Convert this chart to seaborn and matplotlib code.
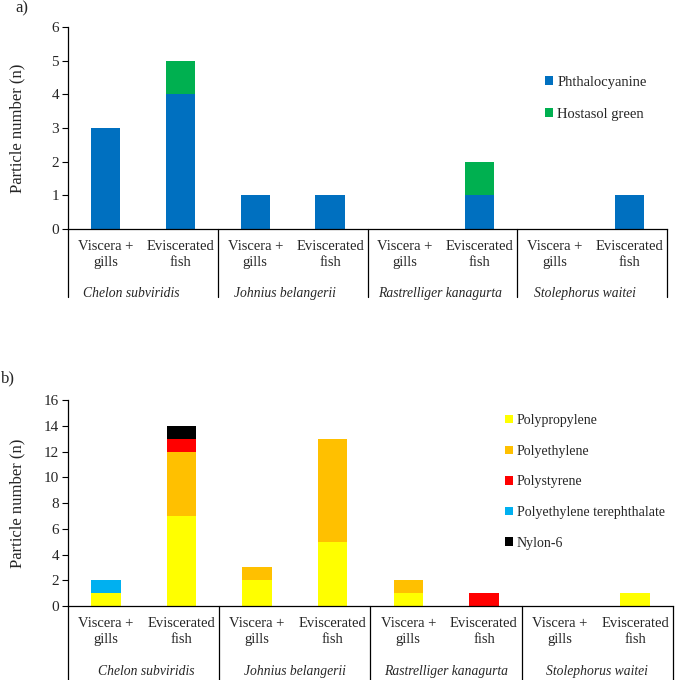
import matplotlib
matplotlib.use("Agg")
import matplotlib.pyplot as plt
import matplotlib.transforms as mtransforms
from matplotlib.patches import Patch
import seaborn as sns
import pandas as pd
import numpy as np

sns.set_style("white")
plt.rcParams["font.family"] = ["Liberation Serif", "DejaVu Serif"]

species = ["Chelon subviridis", "Johnius belangerii", "Rastrelliger kanagurta", "Stolephorus waitei"]
parts = ["Viscera +\ngills", "Eviscerated\nfish"]
categories = [f"{s}|{p}" for s in species for p in parts]
tick_labels = [p for s in species for p in parts]

# panel a: dyes / pigments
dye_names = ["Phthalocyanine", "Hostasol green"]
phthalocyanine = [3, 4, 1, 1, 0, 1, 0, 1]
hostasol_green = [0, 1, 0, 0, 0, 1, 0, 0]
dye_colors = ["#0070C0", "#00B050"]

# panel b: polymers
poly_names = ["Polypropylene", "Polyethylene", "Polystyrene",
              "Polyethylene terephthalate", "Nylon-6"]
polypropylene = [1, 7, 2, 5, 1, 0, 0, 1]
polyethylene = [0, 5, 1, 8, 1, 0, 0, 0]
polystyrene = [0, 1, 0, 0, 0, 1, 0, 0]
pet = [1, 0, 0, 0, 0, 0, 0, 0]
nylon6 = [0, 1, 0, 0, 0, 0, 0, 0]
poly_colors = ["#FFFF00", "#FFC000", "#FF0000", "#00B0F0", "#000000"]

fig = plt.figure(figsize=(6.75, 6.8), dpi=100)
W, H = 675, 680

def ax_rect(l, r, t, b):
    return [l / W, 1 - b / H, (r - l) / W, (b - t) / H]

ax_a = fig.add_axes(ax_rect(68, 667, 27, 229))
ax_b = fig.add_axes(ax_rect(68, 673, 400, 606))


def stacked(ax, series, colors, ymax, ystep, line_depth, species_y, sp_offset):
    cum = np.cumsum(np.array(series, dtype=float), axis=0)
    # draw cumulative totals from top layer down so lower layers overdraw
    for i in range(len(series) - 1, -1, -1):
        df = pd.DataFrame({"cat": categories, "val": cum[i]})
        sns.barplot(data=df, x="cat", y="val", order=categories, color=colors[i],
                    width=0.39, saturation=1, ax=ax, edgecolor="none", linewidth=0)
    ax.set_xlim(-0.5, len(categories) - 0.5)
    ax.set_ylim(0, ymax)
    ax.set_yticks(np.arange(0, ymax + 0.01, ystep))
    ax.set_xticks(range(len(categories)))
    ax.set_xticklabels(tick_labels, fontsize=10.5, linespacing=1.3)
    ax.tick_params(axis="x", length=0, pad=8)
    ax.tick_params(axis="y", length=4.5, width=0.8, direction="out", pad=2,
                   labelsize=11, left=True, color="black")
    ax.set_xlabel("")
    ax.set_ylabel("Particle number (n)", fontsize=12)
    for s in ["top", "right"]:
        ax.spines[s].set_visible(False)
    for s in ["left", "bottom"]:
        ax.spines[s].set_color("black")
        ax.spines[s].set_linewidth(0.9)
    trans = mtransforms.blended_transform_factory(ax.transData, ax.transAxes)
    for xs in [-0.5, 1.5, 3.5, 5.5, 7.5]:
        ax.plot([xs, xs], [0, line_depth], color="black", lw=0.9,
                transform=trans, clip_on=False)
    for k, sp in enumerate(species):
        ax.text(2 * k + 0.5 + sp_offset[k], species_y, sp, style="italic", fontsize=9.8,
                ha="center", va="center", transform=trans)


stacked(ax_a, [phthalocyanine, hostasol_green], dye_colors, 6, 1,
        -0.337, -0.317, [-0.15, -0.1, -0.03, -0.1])
stacked(ax_b, [polypropylene, polyethylene, polystyrene, pet, nylon6], poly_colors,
        16, 2, -0.37, -0.316, [0.03, 0.0, 0.0, 0.0])

ax_a.yaxis.set_label_coords(-0.071, 0.5)
ax_b.yaxis.set_label_coords(-0.071, 0.5)

h_a = [Patch(facecolor=c, edgecolor="none") for c in dye_colors]
fig.legend(h_a, dye_names, loc="upper left", bbox_to_anchor=(545 / W, 1 - 76 / H),
           frameon=False, fontsize=10.5, handlelength=0.55, handleheight=0.55,
           handletextpad=0.3, labelspacing=1.3, borderpad=0, borderaxespad=0)
h_b = [Patch(facecolor=c, edgecolor="none") for c in poly_colors]
fig.legend(h_b, poly_names, loc="upper left", bbox_to_anchor=(505 / W, 1 - 414 / H),
           frameon=False, fontsize=10, handlelength=0.55, handleheight=0.55,
           handletextpad=0.3, labelspacing=1.27, borderpad=0, borderaxespad=0)

fig.text(15 / W, 1 - 8 / H, "a)", fontsize=12, ha="left", va="center")
fig.text(1 / W, 1 - 378 / H, "b)", fontsize=12, ha="left", va="center")

fig.savefig("out.png", dpi=100)
